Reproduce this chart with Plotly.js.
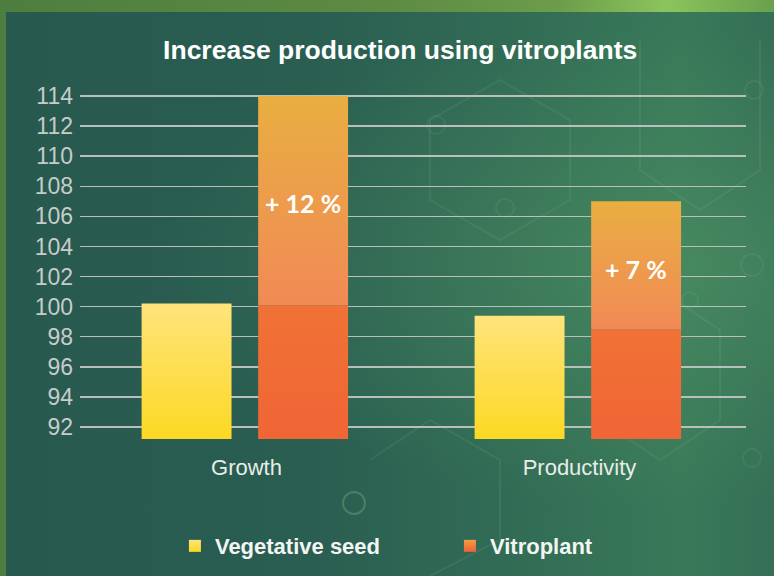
<!DOCTYPE html>
<html>
<head>
<meta charset="utf-8">
<script src="https://cdn.plot.ly/plotly-3.0.1.min.js"></script>
<style>
  html, body { margin: 0; padding: 0; }
  #wrap {
    position: relative; width: 774px; height: 576px; overflow: hidden;
    background: linear-gradient(90deg, #4e7e3f 0%, #5d8b44 50%, #6c9c4b 72%, #8cc45c 86%, #6aa04e 100%);
  }
  #panel {
    position: absolute; left: 6px; top: 12px; width: 768px; height: 564px;
    background:
      radial-gradient(ellipse at 88% 45%, rgba(90,160,105,0.4), rgba(0,0,0,0) 55%),
      linear-gradient(90deg, #28594f 0%, #2a5e51 40%, #316b55 65%, #397959 88%, #346f56 100%);
  }
  #deco { position: absolute; left: 0; top: 0; }
  #graph { position: absolute; left: 0; top: 0; width: 774px; height: 576px; }
</style>
</head>
<body>
<div id="wrap">
  <div id="panel"></div>
  <svg id="deco" width="774" height="576" fill="none" stroke="rgba(140,200,150,0.12)" stroke-width="2">
    <path d="M430 120 L500 80 L570 120 L570 200 L500 240 L430 200 Z"/>
    <path d="M370 460 L430 420 L500 460 L500 540 L430 576"/>
    <path d="M640 40 L640 170 L700 210 L760 170 L760 40"/>
    <path d="M600 330 L660 290 L720 330 L720 420 L660 460 L600 420 Z"/>
    <circle cx="436" cy="125" r="9"/>
    <circle cx="505" cy="208" r="9"/>
    <circle cx="754" cy="90" r="9"/>
    <circle cx="752" cy="265" r="11"/>
    <circle cx="690" cy="300" r="8"/>
    <circle cx="354" cy="503" r="11" stroke="rgba(140,200,150,0.3)"/>
    <circle cx="752" cy="458" r="9"/>
  </svg>
  <div id="graph"></div>
</div>
<script>
  const categories = ['Growth', 'Productivity'];
  const vegetativeSeed = [100.2, 99.4];
  const vitroplantBase = [100.1, 98.5];
  const vitroplantTop = [114, 107];
  const gainLabels = ['+ 12 %', '+ 7 %'];
  const yTicks = [92, 94, 96, 98, 100, 102, 104, 106, 108, 110, 112, 114];

  const yMin = 91.2;
  const barWidth = 0.27;
  const vegOffset = -0.315;
  const vitroOffset = 0.035;

  const vegTrace = {
    type: 'bar', name: 'Vegetative seed',
    x: categories,
    y: vegetativeSeed.map(v => v - yMin),
    base: yMin,
    width: barWidth, offset: vegOffset,
    marker: { color: '#fddc45' },
    hoverinfo: 'skip'
  };

  const vitroLower = {
    type: 'bar', name: 'Vitroplant',
    x: categories,
    y: vitroplantBase.map(v => v - yMin),
    base: yMin,
    width: barWidth, offset: vitroOffset,
    marker: { color: '#f06835' },
    hoverinfo: 'skip'
  };

  const vitroGain = {
    type: 'bar', name: 'Vitroplant gain', showlegend: false,
    x: categories,
    y: vitroplantTop.map((v, i) => v - vitroplantBase[i]),
    base: vitroplantBase,
    width: barWidth, offset: vitroOffset,
    marker: { color: '#ee9a4b' },
    hoverinfo: 'skip'
  };

  const annotations = gainLabels.map((txt, i) => ({
    x: i + vitroOffset + barWidth / 2,
    y: (vitroplantBase[i] + vitroplantTop[i]) / 2 + (i === 0 ? -0.15 : -0.25),
    xref: 'x', yref: 'y',
    text: '<b>' + txt + '</b>',
    showarrow: false,
    font: { family: 'Lato, "Open Sans", sans-serif', size: 25, color: '#ffffff' }
  }));

  const layout = {
    width: 774, height: 576,
    paper_bgcolor: 'rgba(0,0,0,0)',
    plot_bgcolor: 'rgba(0,0,0,0)',
    margin: { l: 80, r: 28, t: 81, b: 137 },
    barmode: 'overlay',
    title: {
      text: 'Increase production using vitroplants',
      x: 0.517, xanchor: 'center',
      y: 0.913, yanchor: 'middle',
      font: { family: '"Liberation Sans", Arial, sans-serif', size: 26.5, weight: 'bold', color: '#ffffff' }
    },
    xaxis: {
      type: 'category',
      showgrid: false, zeroline: false, showline: false,
      ticks: '', ticklabelstandoff: 13,
      tickfont: { family: '"Liberation Sans", Arial, sans-serif', size: 22, color: '#e8ede9' }
    },
    yaxis: {
      range: [yMin, 115],
      tickvals: yTicks,
      showgrid: true, gridcolor: '#b9bfbb', gridwidth: 1.5,
      zeroline: false, showline: false,
      ticks: '', ticklabelstandoff: 6,
      tickfont: { family: '"Liberation Sans", Arial, sans-serif', size: 23, color: '#c6ccc9' }
    },
    showlegend: true,
    legend: {
      orientation: 'h',
      xref: 'container', yref: 'container',
      x: 0.226, xanchor: 'left',
      y: 0.052, yanchor: 'middle',
      bgcolor: 'rgba(0,0,0,0)',
      entrywidth: 230, entrywidthmode: 'pixels',
      font: { family: '"Liberation Sans", Arial, sans-serif', size: 22, weight: 'bold', color: '#f2f5f2' },
      traceorder: 'normal'
    },
    annotations: annotations
  };

  function addGradients(gd) {
    const svg = gd.querySelector('.main-svg');
    const ns = 'http://www.w3.org/2000/svg';
    let defs = svg.querySelector('defs');
    const grads = {
      gYellow: [['0%', '#fee47c'], ['100%', '#fdd823']],
      gOrange: [['0%', '#f07236'], ['100%', '#f06535']],
      gGain: [['0%', '#e9ae41'], ['100%', '#f18a56']],
      gLegendVitro: [['0%', '#eda040'], ['100%', '#f06035']]
    };
    Object.keys(grads).forEach(id => {
      const lg = document.createElementNS(ns, 'linearGradient');
      lg.setAttribute('id', id);
      lg.setAttribute('x1', '0'); lg.setAttribute('y1', '0');
      lg.setAttribute('x2', '0'); lg.setAttribute('y2', '1');
      grads[id].forEach(([off, col]) => {
        const st = document.createElementNS(ns, 'stop');
        st.setAttribute('offset', off);
        st.setAttribute('stop-color', col);
        lg.appendChild(st);
      });
      defs.appendChild(lg);
    });
    const traceFills = ['gYellow', 'gOrange', 'gGain'];
    gd.querySelectorAll('.barlayer .trace').forEach((tr, i) => {
      tr.querySelectorAll('path').forEach(p => { p.style.fill = 'url(#' + traceFills[i] + ')'; });
    });
    const legendFills = ['gYellow', 'gLegendVitro'];
    gd.querySelectorAll('.legend .traces').forEach((tr, i) => {
      tr.querySelectorAll('.legendpoints path').forEach(p => { p.style.fill = 'url(#' + legendFills[i] + ')'; });
    });
  }

  Plotly.newPlot('graph', [vegTrace, vitroLower, vitroGain], layout, { staticPlot: true })
    .then(addGradients);
</script>
</body>
</html>
